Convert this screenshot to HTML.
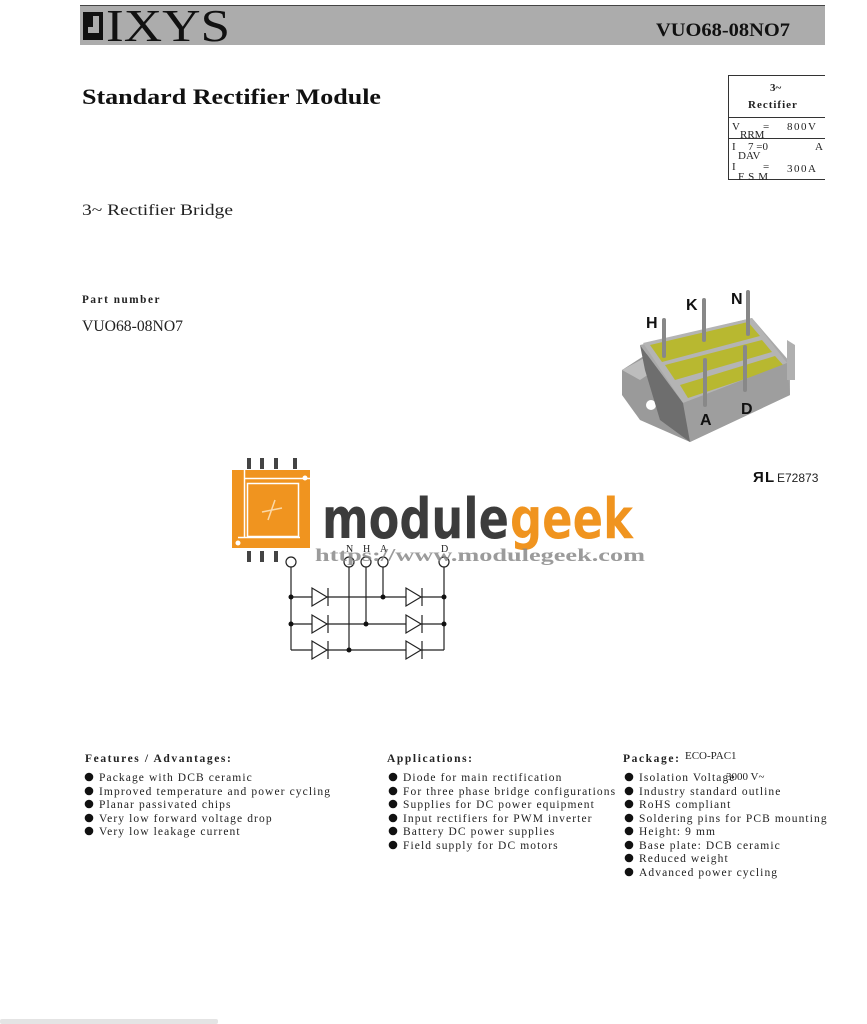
<!DOCTYPE html>
<html><head><meta charset="utf-8"><style>
html,body{margin:0;padding:0;background:#fff;}
svg{display:block}
.s{font-family:"Liberation Serif",serif;}
.l{font-family:"Liberation Serif",serif;font-size:11.5px;letter-spacing:1.1px;fill:#222}
.h{font-family:"Liberation Serif",serif;font-size:11.5px;font-weight:bold;letter-spacing:1.6px;fill:#222}
</style></head><body>
<svg width="867" height="1024" viewBox="0 0 867 1024" xmlns="http://www.w3.org/2000/svg">
<rect x="80" y="5" width="745" height="40" fill="#acacac"/>
<line x1="80" y1="5.5" x2="825" y2="5.5" stroke="#444" stroke-width="1"/>
<rect x="83" y="12" width="20" height="28" fill="#111"/>
<rect x="88" y="16" width="11" height="17" fill="#acacac"/>
<rect x="88" y="16" width="5" height="11" fill="#111"/>
<text x="106" y="41" class="s" font-size="46" fill="#111" textLength="124" lengthAdjust="spacingAndGlyphs">IXYS</text>
<text x="656" y="36" class="s" font-size="19" font-weight="bold" fill="#111" textLength="134" lengthAdjust="spacingAndGlyphs">VUO68-08NO7</text>

<text x="82" y="104" class="s" font-size="22" font-weight="bold" fill="#111" textLength="299" lengthAdjust="spacingAndGlyphs">Standard Rectifier Module</text>
<text x="82" y="215" class="s" font-size="16" fill="#222" textLength="151" lengthAdjust="spacingAndGlyphs">3~ Rectifier Bridge</text>
<text x="82" y="303" class="h" textLength="79" lengthAdjust="spacingAndGlyphs">Part number</text>
<text x="82" y="331" class="s" font-size="16" fill="#222" textLength="101" lengthAdjust="spacingAndGlyphs">VUO68-08NO7</text>

<g stroke="#333" stroke-width="1">
<line x1="728.5" y1="75" x2="728.5" y2="180"/>
<line x1="728" y1="75.5" x2="825" y2="75.5"/>
<line x1="728" y1="117.5" x2="825" y2="117.5"/>
<line x1="728" y1="138.5" x2="825" y2="138.5"/>
<line x1="728" y1="179.5" x2="825" y2="179.5"/>
</g>
<g class="s" fill="#222" font-size="11">
<text x="770" y="91" font-weight="bold">3~</text>
<text x="748" y="108" font-weight="bold" letter-spacing="1">Rectifier</text>
<text x="732" y="130">V</text><text x="763" y="130">=</text><text x="787" y="130" letter-spacing="1.5">800V</text>
<text x="740" y="138">RRM</text>
<text x="732" y="150">I</text><text x="748" y="150">7 =0</text><text x="815" y="150">A</text>
<text x="738" y="159">DAV</text>
<text x="732" y="170">I</text><text x="763" y="170">=</text><text x="787" y="172" letter-spacing="1.5">300A</text>
<text x="738" y="180" letter-spacing="4">FSM</text>
</g>

<g>
<polygon points="622,370 650,352 690,410 690,442 640,420 622,395" fill="#9a9a9a"/>
<polygon points="622,370 648,356 652,372 640,380" fill="#bdbdbd"/>
<circle cx="651" cy="405" r="5" fill="#fff"/>
<polygon points="640,345 752,318 790,362 790,395 690,442 683,403" fill="#a9a9a9"/>
<polygon points="643,343 752,318 787,363 683,403" fill="#b4b4b4"/>
<polygon points="650,345 748,322 760,336 662,362" fill="#b8b830"/>
<polygon points="665,365 762,340 772,352 675,380" fill="#b8b830"/>
<polygon points="680,385 775,356 784,366 688,398" fill="#b8b830"/>
<polygon points="683,403 787,363 790,395 690,442" fill="#9e9e9e"/>
<polygon points="640,345 683,403 690,442 660,420 645,370" fill="#6e6e6e"/>
<polygon points="787,340 795,345 795,380 787,380" fill="#b0b0b0"/>
<g stroke="#888" stroke-width="4" stroke-linecap="round">
<line x1="664" y1="320" x2="664" y2="356"/>
<line x1="704" y1="300" x2="704" y2="340"/>
<line x1="748" y1="292" x2="748" y2="334"/>
<line x1="705" y1="360" x2="705" y2="405"/>
<line x1="745" y1="347" x2="745" y2="390"/>
</g>
<g font-family="Liberation Sans,sans-serif" font-weight="bold" font-size="16" fill="#111">
<text x="646" y="328">H</text><text x="686" y="310">K</text><text x="731" y="304">N</text>
<text x="700" y="425">A</text><text x="741" y="414">D</text>
</g>
</g>
<text x="753" y="482" font-family="Liberation Sans,sans-serif" font-weight="bold" font-size="15" fill="#111">Я</text>
<text x="765" y="482" font-family="Liberation Sans,sans-serif" font-weight="bold" font-size="15" fill="#111">L</text>
<text x="777" y="482" font-family="Liberation Sans,sans-serif" font-size="12" fill="#222">E72873</text>

<g fill="#444">
<rect x="247" y="458" width="4" height="11"/><rect x="260" y="458" width="4" height="11"/><rect x="274" y="458" width="4" height="11"/><rect x="293" y="458" width="4" height="11"/>
<rect x="247" y="551" width="4" height="11"/><rect x="260" y="551" width="4" height="11"/><rect x="274" y="551" width="4" height="11"/>
</g>
<rect x="232" y="470" width="78" height="78" fill="#f0941f"/>
<line x1="244.5" y1="470" x2="244.5" y2="537" stroke="#fff" stroke-width="1.5"/>
<line x1="244" y1="478.5" x2="310" y2="478.5" stroke="#fff" stroke-width="1.5"/>
<rect x="247.5" y="483.5" width="51" height="53" fill="none" stroke="#fff" stroke-width="1.5"/>
<line x1="238" y1="537.5" x2="300" y2="537.5" stroke="#fff" stroke-width="1.5"/>
<circle cx="305" cy="478" r="2.5" fill="#fff"/><circle cx="238" cy="543" r="2.5" fill="#fff"/>
<path d="M262 512 L282 508 M275 500 L268 520" stroke="#fbd9a8" stroke-width="1.5"/>
<text x="322" y="538" font-family="DejaVu Sans,sans-serif" font-weight="bold" font-size="56" fill="#3c3c3c" textLength="187" lengthAdjust="spacingAndGlyphs">module</text>
<text x="510" y="538" font-family="DejaVu Sans,sans-serif" font-weight="bold" font-size="56" fill="#f0941f" textLength="123" lengthAdjust="spacingAndGlyphs">geek</text>

<g stroke="#222" stroke-width="1.2" fill="none">
<circle cx="291" cy="562" r="5"/><circle cx="349" cy="562" r="5"/><circle cx="366" cy="562" r="5"/><circle cx="383" cy="562" r="5"/><circle cx="444" cy="562" r="5"/>
<line x1="291" y1="567" x2="291" y2="650"/>
<line x1="349" y1="567" x2="349" y2="650"/>
<line x1="366" y1="567" x2="366" y2="624"/>
<line x1="383" y1="567" x2="383" y2="597"/>
<line x1="444" y1="567" x2="444" y2="650"/>
<line x1="291" y1="597" x2="444" y2="597"/>
<line x1="291" y1="624" x2="444" y2="624"/>
<line x1="291" y1="650" x2="444" y2="650"/>
</g>
<g stroke="#222" stroke-width="1.2" fill="#fff">
<polygon points="312,588 312,606 327,597"/><line x1="328" y1="588" x2="328" y2="606"/>
<polygon points="312,615 312,633 327,624"/><line x1="328" y1="615" x2="328" y2="633"/>
<polygon points="312,641 312,659 327,650"/><line x1="328" y1="641" x2="328" y2="659"/>
<polygon points="406,588 406,606 421,597"/><line x1="422" y1="588" x2="422" y2="606"/>
<polygon points="406,615 406,633 421,624"/><line x1="422" y1="615" x2="422" y2="633"/>
<polygon points="406,641 406,659 421,650"/><line x1="422" y1="641" x2="422" y2="659"/>
</g>
<g fill="#111">
<circle cx="291" cy="597" r="2.5"/><circle cx="291" cy="624" r="2.5"/><circle cx="383" cy="597" r="2.5"/><circle cx="366" cy="624" r="2.5"/><circle cx="349" cy="650" r="2.5"/><circle cx="444" cy="597" r="2.5"/><circle cx="444" cy="624" r="2.5"/>
</g>
<g class="s" font-size="10" fill="#222"><text x="346" y="552">N</text><text x="363" y="552">H</text><text x="380" y="552">A</text><text x="441" y="552">D</text></g>
<text x="315" y="561" class="s" font-size="18" font-weight="bold" fill="#8a8a8a" opacity="0.85" textLength="330" lengthAdjust="spacingAndGlyphs">https://www.modulegeek.com</text>

<text x="85" y="762" class="h">Features / Advantages:</text>
<g fill="#111"><circle cx="89" cy="777" r="4.3"/><circle cx="89" cy="791" r="4.3"/><circle cx="89" cy="804" r="4.3"/><circle cx="89" cy="818" r="4.3"/><circle cx="89" cy="831" r="4.3"/></g>
<text x="99" y="781" class="l">Package with DCB ceramic</text>
<text x="99" y="795" class="l">Improved temperature and power cycling</text>
<text x="99" y="808" class="l">Planar passivated chips</text>
<text x="99" y="822" class="l">Very low forward voltage drop</text>
<text x="99" y="835" class="l">Very low leakage current</text>

<text x="387" y="762" class="h">Applications:</text>
<g fill="#111"><circle cx="393" cy="777" r="4.3"/><circle cx="393" cy="791" r="4.3"/><circle cx="393" cy="804" r="4.3"/><circle cx="393" cy="818" r="4.3"/><circle cx="393" cy="831" r="4.3"/><circle cx="393" cy="845" r="4.3"/></g>
<text x="403" y="781" class="l">Diode for main rectification</text>
<text x="403" y="795" class="l">For three phase bridge configurations</text>
<text x="403" y="808" class="l">Supplies for DC power equipment</text>
<text x="403" y="822" class="l">Input rectifiers for PWM inverter</text>
<text x="403" y="835" class="l">Battery DC power supplies</text>
<text x="403" y="849" class="l">Field supply for DC motors</text>

<text x="623" y="762" class="h">Package:</text>
<text x="685" y="759" class="s" font-size="11" fill="#222">ECO-PAC1</text>
<g fill="#111"><circle cx="629" cy="777" r="4.3"/><circle cx="629" cy="791" r="4.3"/><circle cx="629" cy="804" r="4.3"/><circle cx="629" cy="818" r="4.3"/><circle cx="629" cy="831" r="4.3"/><circle cx="629" cy="845" r="4.3"/><circle cx="629" cy="858" r="4.3"/><circle cx="629" cy="872" r="4.3"/></g>
<text x="639" y="781" class="l">Isolation Voltage</text>
<text x="726" y="780" class="s" font-size="11" fill="#222">3000  V~</text>
<text x="639" y="795" class="l">Industry standard outline</text>
<text x="639" y="808" class="l">RoHS compliant</text>
<text x="639" y="822" class="l">Soldering pins for PCB mounting</text>
<text x="639" y="835" class="l">Height: 9 mm</text>
<text x="639" y="849" class="l">Base plate: DCB ceramic</text>
<text x="639" y="862" class="l">Reduced weight</text>
<text x="639" y="876" class="l">Advanced power cycling</text>

<rect x="0" y="1019" width="218" height="5" rx="2" fill="#e4e4e4"/>
</svg>
</body></html>
